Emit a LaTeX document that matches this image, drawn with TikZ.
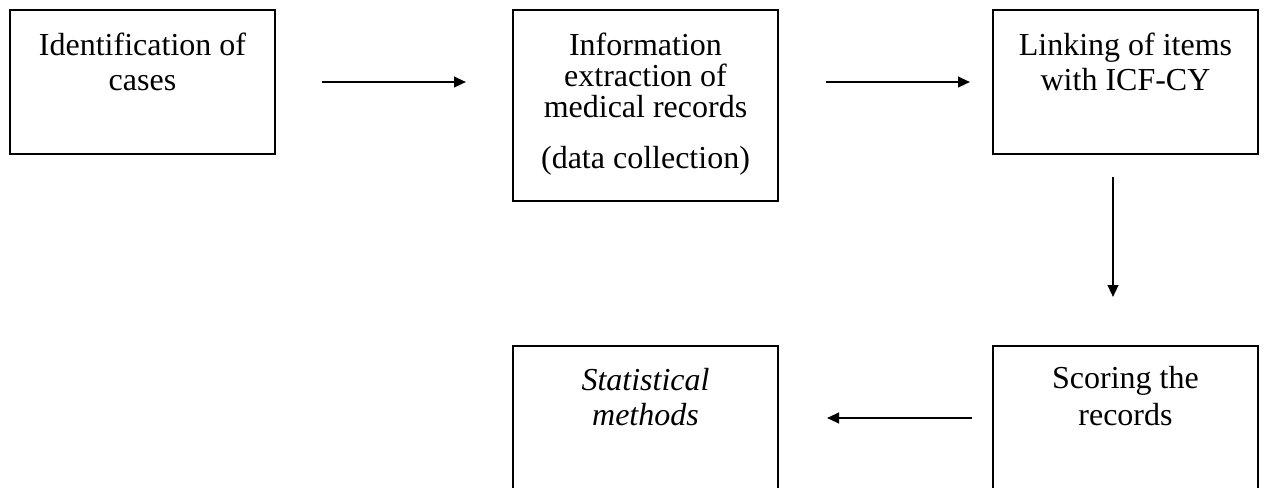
\documentclass[tikz,border=0pt]{standalone}
\usepackage{fontspec}
\setmainfont{Liberation Serif}
\usetikzlibrary{arrows.meta}
\newcommand\boxlines[1]{\vtop{\lineskiplimit=-100pt\halign{\hfil##\hfil\cr#1\crcr}}}
\begin{document}
\begin{tikzpicture}[x=0.75pt,y=-0.75pt,
  stepbox/.style={draw, line width=1.1pt, minimum width=198.75pt, minimum height=108pt, inner sep=0pt, outer sep=0pt},
  boxtext/.style={anchor=base, inner sep=0pt, font=\fontsize{24pt}{26.25pt}\selectfont},
  flow/.style={line width=1.6pt, -{Triangle[length=9pt,width=8pt]}}]
\useasboundingbox (0,0) rectangle (1265,487);
\clip (0,0) rectangle (1265,487);

\node[stepbox] (b1) at (142.5,82) {};
\node[stepbox, minimum height=143.25pt] (b2) at (645.5,105.5) {};
\node[stepbox] (b3) at (1125.5,82) {};
\node[stepbox] (b4) at (645.5,418) {};
\node[stepbox] (b5) at (1125.5,418) {};

\node[boxtext] (t1) at (142.5,55) {\boxlines{Identification of\cr cases}};
\node[boxtext, font=\fontsize{24pt}{23.6pt}\selectfont] (t2) at (645.5,55) {\boxlines{Information\cr extraction of\cr medical records\cr\noalign{\vskip 14pt}(data collection)}};
\node[boxtext] (t3) at (1125.5,55) {\boxlines{Linking of items\cr with ICF-CY}};
\node[boxtext, font=\fontsize{24pt}{26.25pt}\selectfont\itshape] (t4) at (645.5,390) {\boxlines{Statistical\cr methods}};
\node[boxtext, font=\fontsize{24pt}{28pt}\selectfont] (t5) at (1125.5,388) {\boxlines{Scoring the\cr records}};

\draw[flow, shorten <=35.25pt, shorten >=35.25pt] (b1.east) -- (b1.east -| b2.west);
\draw[flow, shorten <=36pt, shorten >=17.25pt] (b2.east |- b3.west) -- (b3.west);
\draw[flow, shorten <=17.25pt, shorten >=36.75pt] ([xshift=-9.375pt]b3.south) -- ([xshift=-9.375pt]b5.north);
\draw[flow, shorten <=15.75pt, shorten >=36.75pt] (b5.west) -- (b4.east);
\end{tikzpicture}
\end{document}
